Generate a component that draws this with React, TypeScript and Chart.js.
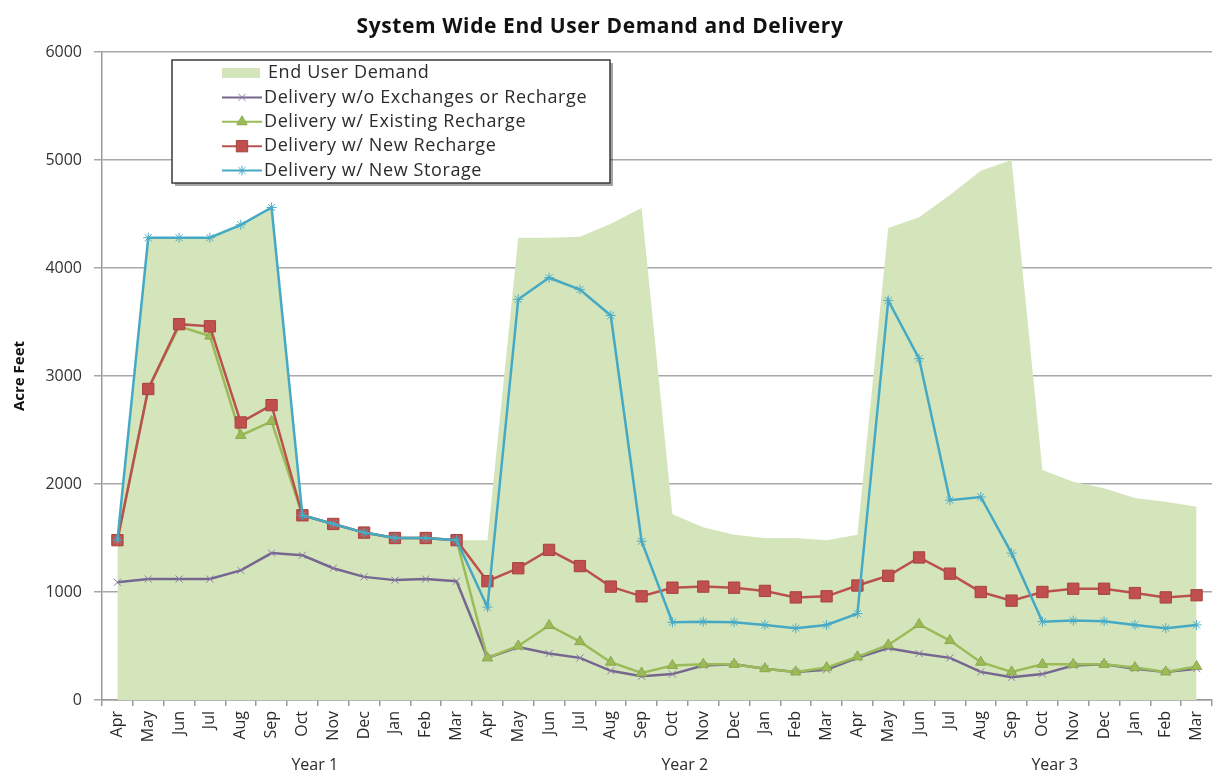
import React, { useEffect, useRef } from 'react';
import { Chart, registerables } from 'chart.js';
import { drawPoint } from 'chart.js/helpers';

Chart.register(...registerables);

const TITLE = 'System Wide End User Demand and Delivery';
const Y_TITLE = 'Acre Feet';

const MONTHS = [
  'Apr', 'May', 'Jun', 'Jul', 'Aug', 'Sep', 'Oct', 'Nov', 'Dec', 'Jan', 'Feb', 'Mar',
  'Apr', 'May', 'Jun', 'Jul', 'Aug', 'Sep', 'Oct', 'Nov', 'Dec', 'Jan', 'Feb', 'Mar',
  'Apr', 'May', 'Jun', 'Jul', 'Aug', 'Sep', 'Oct', 'Nov', 'Dec', 'Jan', 'Feb', 'Mar',
];

const YEARS = ['Year 1', 'Year 2', 'Year 3'];

const END_USER_DEMAND = [
  1480, 4280, 4280, 4280, 4400, 4560, 1710, 1620, 1550, 1500, 1500, 1480,
  1480, 4280, 4280, 4290, 4410, 4555, 1720, 1600, 1530, 1500, 1500, 1480,
  1530, 4370, 4470, 4675, 4900, 5000, 2130, 2020, 1960, 1870, 1835, 1790,
];

const DELIVERY_NO_EXCHANGE = [
  1090, 1120, 1120, 1120, 1200, 1360, 1340, 1220, 1140, 1110, 1120, 1100,
  390, 490, 430, 390, 270, 220, 240, 320, 330, 290, 260, 280,
  390, 480, 430, 390, 260, 210, 240, 320, 330, 290, 260, 290,
];

const DELIVERY_EXISTING_RECHARGE = [
  1480, 2880, 3460, 3370, 2450, 2580, 1710, 1630, 1550, 1500, 1500, 1480,
  390, 500, 690, 540, 350, 250, 320, 330, 330, 290, 260, 300,
  400, 510, 700, 550, 350, 260, 330, 330, 330, 300, 260, 310,
];

const DELIVERY_NEW_RECHARGE = [
  1480, 2880, 3480, 3460, 2570, 2730, 1710, 1630, 1550, 1500, 1500, 1480,
  1100, 1220, 1390, 1240, 1050, 960, 1040, 1050, 1040, 1010, 950, 960,
  1060, 1150, 1320, 1170, 1000, 920, 1000, 1030, 1030, 990, 950, 970,
];

const DELIVERY_NEW_STORAGE = [
  1480, 4280, 4280, 4280, 4400, 4560, 1710, 1630, 1550, 1500, 1500, 1480,
  860, 3710, 3910, 3800, 3560, 1470, 720, 725, 720, 695, 665, 695,
  800, 3700, 3160, 1850, 1880, 1360, 725, 735, 730, 695, 665, 695,
];

const FONT = '"Open Sans", "DejaVu Sans", sans-serif';
const TEXT_COLOR = '#2b2b2b';

const decorPlugin = {
  id: 'decor',
  afterDraw(chart: any) {
    const ctx = chart.ctx as CanvasRenderingContext2D;
    const xs = chart.scales.x;

    ctx.save();
    // Title
    ctx.fillStyle = '#111';
    ctx.font = `bold 21px ${FONT}`;
    (ctx as any).letterSpacing = '0.6px';
    ctx.textAlign = 'center';
    ctx.textBaseline = 'middle';
    ctx.fillText(TITLE, 600, 27);
    (ctx as any).letterSpacing = '0px';

    // Y axis title
    ctx.save();
    ctx.translate(20, 376);
    ctx.rotate(-Math.PI / 2);
    ctx.font = `bold 15px ${FONT}`;
    ctx.fillStyle = '#111';
    ctx.fillText(Y_TITLE, 0, 0);
    ctx.restore();

    // Year group labels
    ctx.font = `16px ${FONT}`;
    ctx.fillStyle = TEXT_COLOR;
    const perYear = MONTHS.length / YEARS.length;
    YEARS.forEach((t, i) => {
      const px = xs.getPixelForValue(i * perYear + perYear / 2 + 0.4);
      ctx.fillText(t, px, 765);
    });

    // Legend box
    const bx = 172, by = 60, bw = 438, bh = 123;
    ctx.fillStyle = 'rgba(0,0,0,0.35)';
    ctx.fillRect(bx + 3, by + 3, bw, bh);
    ctx.fillStyle = '#ffffff';
    ctx.fillRect(bx, by, bw, bh);
    ctx.strokeStyle = '#3a3a3a';
    ctx.lineWidth = 1.5;
    ctx.strokeRect(bx, by, bw, bh);

    ctx.textAlign = 'left';
    ctx.textBaseline = 'middle';
    ctx.font = `18px ${FONT}`;
    (ctx as any).letterSpacing = '0.6px';
    chart.data.datasets.forEach((ds: any, row: number) => {
      const y = 73 + row * 24.4;
      if (ds.fill) {
        ctx.fillStyle = ds.backgroundColor;
        ctx.fillRect(222, y - 5, 38, 10);
        ctx.fillStyle = TEXT_COLOR;
        ctx.fillText(ds.label, 268, y);
      } else {
        ctx.strokeStyle = ds.borderColor;
        ctx.lineWidth = 2;
        ctx.beginPath();
        ctx.moveTo(222, y);
        ctx.lineTo(262, y);
        ctx.stroke();
        ctx.fillStyle = ds.pointBackgroundColor;
        ctx.strokeStyle = ds.pointBorderColor;
        ctx.lineWidth = ds.pointBorderWidth;
        drawPoint(ctx, {
          pointStyle: ds.pointStyle,
          radius: ds.pointRadius,
          rotation: 0,
          borderWidth: ds.pointBorderWidth,
        } as any, 242, y);
        ctx.fillStyle = TEXT_COLOR;
        ctx.fillText(ds.label, 264, y);
      }
    });
    (ctx as any).letterSpacing = '0px';
    ctx.restore();
  },
};

export default function App() {
  const canvasRef = useRef<HTMLCanvasElement | null>(null);

  useEffect(() => {
    if (!canvasRef.current) return;
    Chart.defaults.font.family = FONT;
    const chart = new Chart(canvasRef.current, {
      type: 'line',
      data: {
        labels: MONTHS,
        datasets: [
          {
            label: 'End User Demand',
            data: END_USER_DEMAND,
            fill: 'origin',
            backgroundColor: '#d5e5bb',
            borderColor: 'rgba(0,0,0,0)',
            borderWidth: 0,
            pointRadius: 0,
            pointHoverRadius: 0,
            tension: 0,
            order: 5,
          },
          {
            label: 'Delivery w/o Exchanges or Recharge',
            data: DELIVERY_NO_EXCHANGE,
            fill: false,
            borderColor: '#75678f',
            borderWidth: 2.5,
            pointStyle: 'crossRot',
            pointRadius: 5,
            pointBorderWidth: 1,
            pointBackgroundColor: '#8a7caa',
            pointBorderColor: '#8a7caa',
            tension: 0,
            order: 4,
          },
          {
            label: 'Delivery w/ Existing Recharge',
            data: DELIVERY_EXISTING_RECHARGE,
            fill: false,
            borderColor: '#9bbb59',
            borderWidth: 2.5,
            pointStyle: 'triangle',
            pointRadius: 6,
            pointBorderWidth: 1,
            pointBackgroundColor: '#9bbb59',
            pointBorderColor: '#8aa94c',
            tension: 0,
            order: 3,
          },
          {
            label: 'Delivery w/ New Recharge',
            data: DELIVERY_NEW_RECHARGE,
            fill: false,
            borderColor: '#b9524e',
            borderWidth: 2.5,
            pointStyle: 'rect',
            pointRadius: 8,
            pointBorderWidth: 1,
            pointBackgroundColor: '#c0504d',
            pointBorderColor: '#a8423f',
            tension: 0,
            order: 2,
          },
          {
            label: 'Delivery w/ New Storage',
            data: DELIVERY_NEW_STORAGE,
            fill: false,
            borderColor: '#46a9c4',
            borderWidth: 2.5,
            pointStyle: 'star',
            pointRadius: 5,
            pointBorderWidth: 1,
            pointBackgroundColor: '#4bacc6',
            pointBorderColor: '#4bacc6',
            tension: 0,
            order: 1,
          },
        ],
      },
      options: {
        responsive: false,
        animation: false,
        layout: { padding: { top: 52, left: 0, right: 0, bottom: 0 } },
        plugins: {
          legend: { display: false },
          title: { display: false },
          tooltip: { enabled: false },
        },
        scales: {
          x: {
            type: 'category',
            offset: true,
            grid: {
              display: true,
              drawOnChartArea: false,
              drawTicks: true,
              tickLength: 6,
              offset: true,
              color: '#9a9a9a',
              lineWidth: 1.5,
            },
            border: { color: '#9a9a9a', width: 1.5 },
            ticks: {
              minRotation: 90,
              maxRotation: 90,
              autoSkip: false,
              padding: 5,
              color: TEXT_COLOR,
              font: { size: 16, family: FONT },
            },
            afterFit(scale: any) {
              scale.height = 73;
            },
          },
          y: {
            min: 0,
            max: 6000,
            ticks: {
              stepSize: 1000,
              padding: 12,
              color: '#333',
              font: { size: 16, family: FONT },
              callback: (v: any) => String(v),
            },
            grid: {
              color: '#a8a8a8',
              lineWidth: 1.5,
              tickLength: 8,
            },
            border: { color: '#9a9a9a', width: 1.5 },
            afterFit(scale: any) {
              scale.width = 102;
            },
          },
        },
      },
      plugins: [decorPlugin],
    });
    return () => chart.destroy();
  }, []);

  return (
    <div
      style={{
        position: 'fixed',
        left: 0,
        top: 0,
        width: 1216,
        height: 773,
        overflow: 'hidden',
        background: '#ffffff',
      }}
    >
      <canvas ref={canvasRef} width={1221} height={773} style={{ display: 'block' }} />
    </div>
  );
}
